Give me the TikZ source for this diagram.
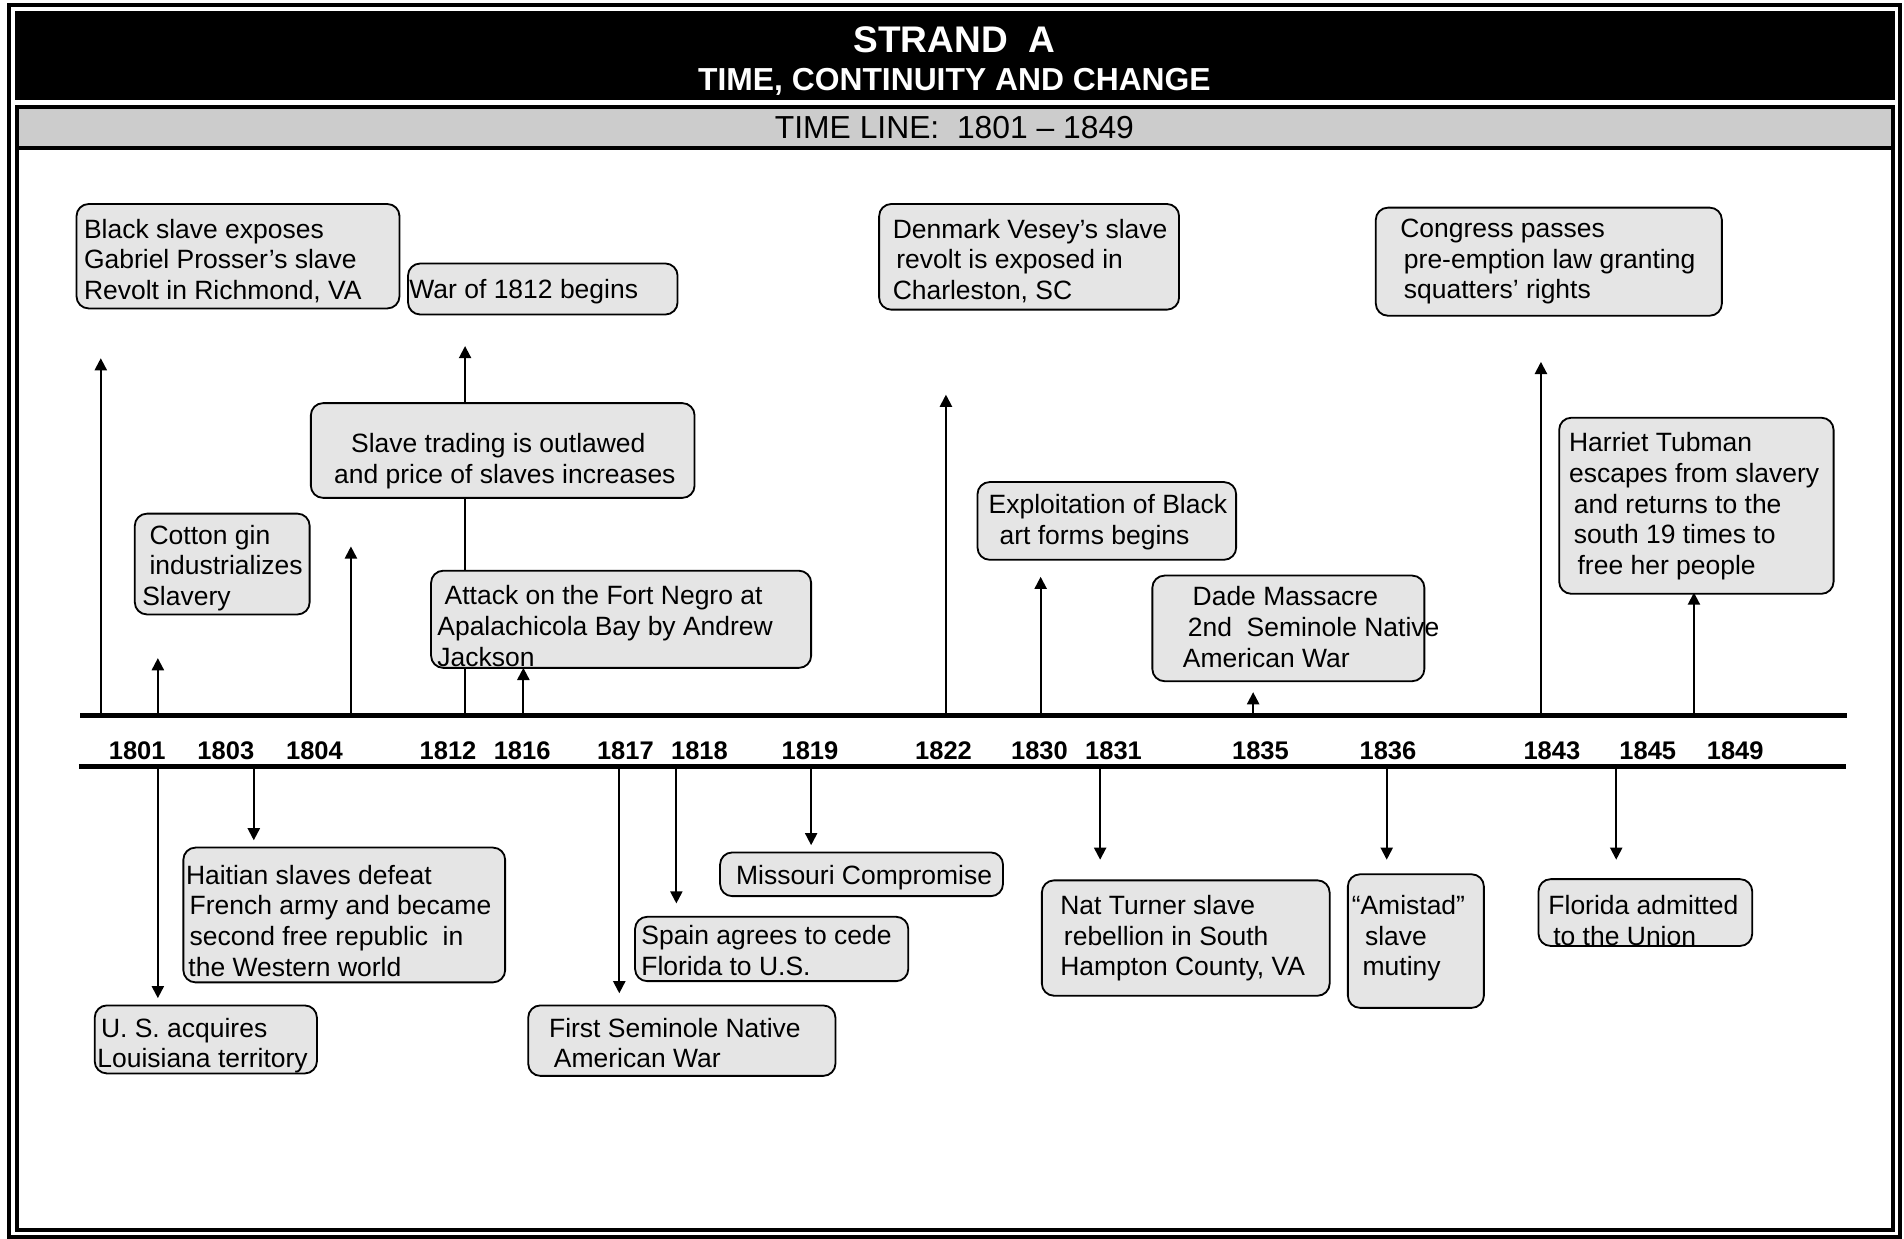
\documentclass[tikz,border=0pt]{standalone}
\usepackage{fontspec}
\setmainfont{Liberation Sans}
\usetikzlibrary{arrows.meta,fit}

\definecolor{boxgray}{gray}{0.9}
\definecolor{bargray}{gray}{0.8}

\newcommand\evfont{\fontsize{21.8pt}{25.3pt}\selectfont}
\newcommand\yrfont{\fontsize{21pt}{24pt}\selectfont\bfseries}

\tikzset{
  evbox/.style={draw, line width=1.5pt, rounded corners=10pt, fill=boxgray, inner sep=0pt},
  evtext/.style={anchor=north west, inner sep=0pt, align=left, font=\evfont},
  yr/.style={inner sep=0pt, font=\yrfont},
  evarrow/.style={line width=1.6pt, -{Triangle[length=10pt,width=10pt]}},
  axis/.style={line width=4pt},
  frameline/.style={line width=3.3pt},
}

\begin{document}
\begin{tikzpicture}[x=1pt,y=-1pt]
  \useasboundingbox (0,0) rectangle (1568,1020);

  % frame and heading
  \draw[frameline] (7.4,4.1) rectangle (1564.7,1018.7);
  \fill (12.4,9.1) rectangle (1560.6,82.4);
  \fill[bargray] (15.6,89.7) rectangle (1557.4,121.9);
  \draw[frameline] (14,88.1) rectangle (1559,1013);
  \draw[frameline] (14,121.9) -- (1559,121.9);
  \node[anchor=base, text=white, font=\fontsize{30.5pt}{34pt}\selectfont\bfseries] (title) at (786,42.9) {STRAND\ \ A};
  \node[anchor=base, text=white, font=\fontsize{26.2pt}{30pt}\selectfont\bfseries] (subtitle) at (786,74.4) {TIME, CONTINUITY AND CHANGE};
  \node[anchor=base, font=\fontsize{26.2pt}{30pt}\selectfont] (range) at (786,114.4) {TIME LINE:\ \ 1801 -- 1849};

  % the two axis lines
  \draw[axis] (66,589) -- (1521,589);
  \draw[axis] (65,631) -- (1520,631);

  % arrows above
  \coordinate (u1) at (83,589);   \coordinate (u1e) at (83,295);
  \coordinate (u2) at (130,589);  \coordinate (u2e) at (130,542);
  \coordinate (u3) at (289,589);  \coordinate (u3e) at (289,450);
  \coordinate (u4) at (383,589);  \coordinate (u4e) at (383,285);
  \coordinate (u5) at (431,589);  \coordinate (u5e) at (431,550);
  \coordinate (u6) at (779,589);  \coordinate (u6e) at (779,325);
  \coordinate (u7) at (857,589);  \coordinate (u7e) at (857,475);
  \coordinate (u8) at (1032,589); \coordinate (u8e) at (1032,570);
  \coordinate (u9) at (1269,589); \coordinate (u9e) at (1269,298);
  \coordinate (u10) at (1395,589); \coordinate (u10e) at (1395,488);
  \draw[evarrow] (u1) -- (u1e);
  \draw[evarrow] (u2) -- (u2e);
  \draw[evarrow] (u3) -- (u3e);
  \draw[evarrow] (u4) -- (u4e);
  \draw[evarrow] (u5) -- (u5e);
  \draw[evarrow] (u6) -- (u6e);
  \draw[evarrow] (u7) -- (u7e);
  \draw[evarrow] (u8) -- (u8e);
  \draw[evarrow] (u9) -- (u9e);
  \draw[evarrow] (u10) -- (u10e);

  % arrows below
  \coordinate (d1) at (130,631);  \coordinate (d1e) at (130,822);
  \coordinate (d2) at (209,631);  \coordinate (d2e) at (209,692);
  \coordinate (d3) at (510,631);  \coordinate (d3e) at (510,818);
  \coordinate (d4) at (557,631);  \coordinate (d4e) at (557,744);
  \coordinate (d5) at (668,631);  \coordinate (d5e) at (668,696);
  \coordinate (d6) at (906,631);  \coordinate (d6e) at (906,708);
  \coordinate (d7) at (1142,631); \coordinate (d7e) at (1142,708);
  \coordinate (d8) at (1331,631); \coordinate (d8e) at (1331,708);
  \draw[evarrow] (d1) -- (d1e);
  \draw[evarrow] (d2) -- (d2e);
  \draw[evarrow] (d3) -- (d3e);
  \draw[evarrow] (d4) -- (d4e);
  \draw[evarrow] (d5) -- (d5e);
  \draw[evarrow] (d6) -- (d6e);
  \draw[evarrow] (d7) -- (d7e);
  \draw[evarrow] (d8) -- (d8e);

  % events above the line
  \node[evbox, fit={(63,168) (329,254)}] (prosser) {};
  \node[evtext] (prosser-t) at (69,180) {Black slave exposes\\Gabriel Prosser’s slave\\Revolt in Richmond, VA};
  \node[evbox, fit={(336,217) (558,259)}] (war) {};
  \node[evtext] (war-t) at (337,230) {War of 1812 begins};
  \node[evbox, fit={(256,332) (572,410)}] (trade) {};
  \node[evtext] (trade-t) at (275,357) {\hspace*{14pt}Slave trading is outlawed\\and price of slaves increases};
  \node[evbox, fit={(111,423) (255,506)}] (cotton) {};
  \node[evtext] (cotton-t) at (117,432) {\hspace*{6pt}Cotton gin\\\hspace*{6pt}industrializes\\Slavery};
  \node[evbox, fit={(355,470) (668,550)}] (fort) {};
  \node[evtext] (fort-t) at (360,482) {\hspace*{6pt}Attack on the Fort Negro at\\Apalachicola Bay by Andrew\\Jackson};
  \node[evbox, fit={(724,168) (971,255)}] (vesey) {};
  \node[evtext] (vesey-t) at (735,180) {Denmark Vesey’s slave\\\hspace*{3pt}revolt is exposed in\\Charleston, SC};
  \node[evbox, fit={(1133,171) (1418,260)}] (congress) {};
  \node[evtext] (congress-t) at (1153,180) {Congress passes\\\hspace*{3pt}pre-emption law granting\\\hspace*{3pt}squatters’ rights};
  \node[evbox, fit={(805,397) (1018,461)}] (art) {};
  \node[evtext] (art-t) at (814,407) {Exploitation of Black\\\hspace*{9pt}art forms begins};
  \node[evbox, fit={(949,474) (1173,561)}] (dade) {};
  \node[evtext] (dade-t) at (974,483) {\hspace*{8pt}Dade Massacre\\\hspace*{4pt}2nd\ \ Seminole Native\\American War};
  \node[evbox, fit={(1284,344) (1510,489)}] (tubman) {};
  \node[evtext] (tubman-t) at (1292,356) {Harriet Tubman\\escapes from slavery\\\hspace*{4pt}and returns to the\\\hspace*{4pt}south 19 times to\\\hspace*{7pt}free her people};

  % events below the line
  \node[evbox, fit={(78,828) (261,884)}] (louisiana) {};
  \node[evtext] (louisiana-t) at (80,838) {\hspace*{3pt}U. S. acquires\\Louisiana territory};
  \node[evbox, fit={(151,698) (416,809)}] (haiti) {};
  \node[evtext] (haiti-t) at (153,712) {Haitian slaves defeat\\\hspace*{3pt}French army and became\\\hspace*{3pt}second free republic\ \ in\\\hspace*{2pt}the Western world};
  \node[evbox, fit={(593,702) (826,738)}] (missouri) {};
  \node[evtext] (missouri-t) at (606,712) {Missouri Compromise};
  \node[evbox, fit={(523,755) (748,808)}] (spain) {};
  \node[evtext] (spain-t) at (528,762) {Spain agrees to cede\\Florida to U.S.};
  \node[evbox, fit={(435,828) (688,886)}] (seminole) {};
  \node[evtext] (seminole-t) at (452,838) {First Seminole Native\\\hspace*{4pt}American War};
  \node[evbox, fit={(858,725) (1095,820)}] (turner) {};
  \node[evtext] (turner-t) at (873,737) {Nat Turner slave\\\hspace*{3pt}rebellion in South\\Hampton County, VA};
  \node[evbox, fit={(1110,720) (1222,830)}] (amistad) {};
  \node[evtext] (amistad-t) at (1113,737) {“Amistad”\\\hspace*{11pt}slave\\\hspace*{9pt}mutiny};
  \node[evbox, fit={(1267,724) (1443,779)}] (florida) {};
  \node[evtext] (florida-t) at (1275,737) {Florida admitted\\\hspace*{4pt}to the Union};

  % years
  \node[yr] (y1801) at (113,618) {1801};
  \node[yr] (y1803) at (186,618) {1803};
  \node[yr] (y1804) at (259,618) {1804};
  \node[yr] (y1812) at (369,618) {1812};
  \node[yr] (y1816) at (430,618) {1816};
  \node[yr] (y1817) at (515,618) {1817};
  \node[yr] (y1818) at (576,618) {1818};
  \node[yr] (y1819) at (667,618) {1819};
  \node[yr] (y1822) at (777,618) {1822};
  \node[yr] (y1830) at (856,618) {1830};
  \node[yr] (y1831) at (917,618) {1831};
  \node[yr] (y1835) at (1038,618) {1835};
  \node[yr] (y1836) at (1143,618) {1836};
  \node[yr] (y1843) at (1278,618) {1843};
  \node[yr] (y1845) at (1357,618) {1845};
  \node[yr] (y1849) at (1429,618) {1849};
\end{tikzpicture}
\end{document}
